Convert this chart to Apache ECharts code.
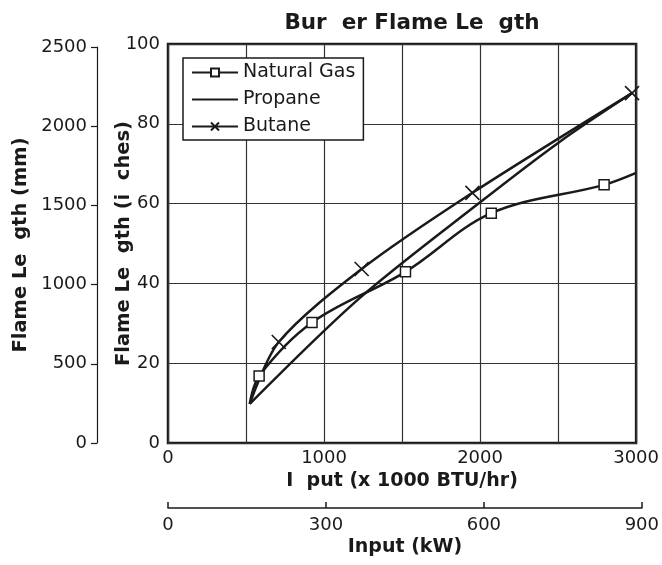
<!DOCTYPE html>
<html>
<head>
<meta charset="utf-8">
<script src="https://cdn.jsdelivr.net/npm/echarts@6/dist/echarts.min.js"></script>
<style>
  html, body { margin: 0; padding: 0; background: #fff; }
  #chart { width: 662px; height: 565px; }
</style>
</head>
<body>
<div id="chart"></div>
<script>
// values (x in 1000 BTU/hr, y in inches)
var ngX = [524, 584, 923, 1522, 2072, 2795, 3000];
var ngY = [9.8, 16.8, 30.2, 42.9, 57.6, 64.7, 67.7];
var ngMark = [false, true, true, true, true, true, false];

var prX = [524, 1228, 1996, 2507, 2974];
var prY = [9.8, 36.3, 60.2, 75.4, 87.7];

var buX = [524, 710, 1241, 1951, 2974];
var buY = [9.8, 25.3, 43.6, 62.7, 87.7];
var buMark = [false, true, true, true, true];

var seriesNames = ['Natural Gas', 'Propane', 'Butane'];

var ink = '#1a1a1a';
var font = 'DejaVu Sans';

function pts(xs, ys, marks) {
  var out = [];
  for (var i = 0; i < xs.length; i++) {
    var d = { value: [xs[i], ys[i]] };
    if (marks && !marks[i]) d.symbol = 'none';
    out.push(d);
  }
  return out;
}

function plain(v) { return String(v); }

var myChart = echarts.init(document.getElementById('chart'));

var option = {
  animation: false,
  backgroundColor: '#fff',
  textStyle: { fontFamily: font, color: ink },
  title: {
    text: 'Bur  er Flame Le  gth',
    left: 407,
    top: 7,
    textAlign: 'center',
    textStyle: { fontFamily: font, fontWeight: 'bold', fontSize: 21.5, color: ink }
  },
  legend: {
    data: [
      { name: seriesNames[0] },
      { name: seriesNames[1], itemStyle: { opacity: 0 } },
      { name: seriesNames[2] }
    ],
    orient: 'vertical',
    left: 183,
    top: 58,
    padding: [5, 8, 4, 8],
    itemWidth: 46,
    itemHeight: 10,
    itemGap: 8,
    backgroundColor: '#fff',
    borderColor: ink,
    borderWidth: 1.5,
    borderRadius: 0,
    textStyle: { fontFamily: font, fontSize: 19, lineHeight: 19, color: ink }
  },
  grid: [
    { left: 168, right: 25, top: 44, bottom: 122, show: true, borderColor: ink, borderWidth: 2.5 },
    { left: 97, width: 10, top: 47, bottom: 122 },
    { left: 168, width: 475, bottom: 57, height: 10 }
  ],
  xAxis: [
    {
      gridIndex: 0, type: 'value', min: 0, max: 3000, interval: 500,
      axisLine: { show: false },
      axisTick: { show: false },
      splitLine: { show: true, lineStyle: { color: '#333', width: 1.2 } },
      axisLabel: {
        fontFamily: font, fontSize: 18, color: ink, margin: 6,
        formatter: function (v) { return v % 1000 === 0 ? String(v) : ''; }
      },
      name: 'I  put (x 1000 BTU/hr)',
      nameLocation: 'middle',
      nameGap: 29,
      nameMoveOverlap: false,
      nameTextStyle: { fontFamily: font, fontWeight: 'bold', fontSize: 19, color: ink }
    },
    { gridIndex: 1, type: 'value', min: 0, max: 1, show: false },
    {
      gridIndex: 2, type: 'value', min: 0, max: 900, interval: 300,
      axisLine: { show: true, lineStyle: { color: ink, width: 1.5 } },
      axisTick: { show: true, inside: true, length: 6, lineStyle: { color: ink, width: 1.5 } },
      splitLine: { show: false },
      axisLabel: { fontFamily: font, fontSize: 18, color: ink, margin: 8, formatter: plain },
      name: 'Input (kW)',
      nameLocation: 'middle',
      nameGap: 30,
      nameMoveOverlap: false,
      nameTextStyle: { fontFamily: font, fontWeight: 'bold', fontSize: 19, color: ink }
    }
  ],
  yAxis: [
    {
      gridIndex: 0, type: 'value', min: 0, max: 100, interval: 20,
      axisLine: { show: false },
      axisTick: { show: false },
      splitLine: { show: true, lineStyle: { color: '#333', width: 1.2 } },
      axisLabel: { fontFamily: font, fontSize: 18, color: ink, margin: 8, formatter: plain },
      name: 'Flame Le  gth (i  ches)',
      nameLocation: 'middle',
      nameRotate: 90,
      nameGap: 34,
      nameMoveOverlap: false,
      nameTextStyle: { fontFamily: font, fontWeight: 'bold', fontSize: 19.5, color: ink }
    },
    {
      gridIndex: 1, type: 'value', min: 0, max: 2500, interval: 500,
      axisLine: { show: true, lineStyle: { color: ink, width: 1.2 } },
      axisTick: { show: true, length: 6, lineStyle: { color: ink, width: 1.2 } },
      splitLine: { show: false },
      axisLabel: { fontFamily: font, fontSize: 18, color: ink, margin: 10, formatter: plain },
      name: 'Flame Le  gth (mm)',
      nameLocation: 'middle',
      nameRotate: 90,
      nameGap: 66,
      nameMoveOverlap: false,
      nameTextStyle: { fontFamily: font, fontWeight: 'bold', fontSize: 19.5, color: ink }
    },
    { gridIndex: 2, type: 'value', min: 0, max: 1, show: false }
  ],
  series: [
    {
      name: seriesNames[0], type: 'line', xAxisIndex: 0, yAxisIndex: 0,
      smooth: 0.35,
      symbol: 'rect', symbolSize: 10,
      lineStyle: { color: ink, width: 2.5 },
      itemStyle: { color: '#fff', borderColor: ink, borderWidth: 1.5 },
      z: 3,
      data: pts(ngX, ngY, ngMark)
    },
    {
      name: seriesNames[1], type: 'line', xAxisIndex: 0, yAxisIndex: 0,
      smooth: 0.3,
      symbol: 'none',
      lineStyle: { color: ink, width: 2.5 },
      itemStyle: { color: ink },
      z: 2,
      data: pts(prX, prY, null)
    },
    {
      name: seriesNames[2], type: 'line', xAxisIndex: 0, yAxisIndex: 0,
      smooth: 0.3,
      symbol: 'path://M0,0L10,10M10,0L0,10', symbolSize: 14,
      lineStyle: { color: ink, width: 2.5 },
      itemStyle: { color: 'transparent', borderColor: ink, borderWidth: 1.6 },
      z: 3,
      data: pts(buX, buY, buMark)
    }
  ]
};
myChart.setOption(option);
</script>
</body>
</html>
